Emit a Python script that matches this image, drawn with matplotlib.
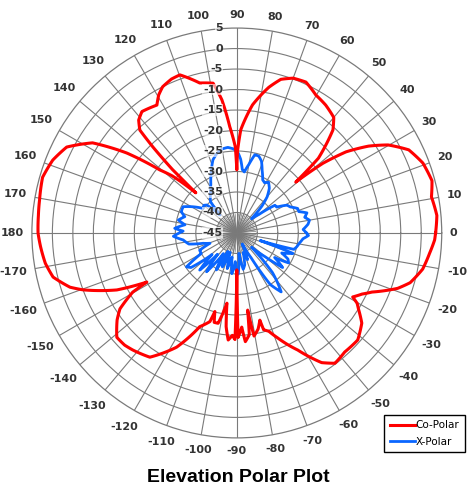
import numpy as np
import matplotlib
matplotlib.use('Agg')
import matplotlib.pyplot as plt

# ---------------- data ----------------
co_angle = [0, 5, 10.5, 15, 20.6, 25.8, 30.2, 33.4, 36.6, 39, 40.8, 42.5, 47, 50, 55.2,
            60.2, 65.4, 70, 74, 77.6, 83, 87.8, 89.5, 90, 91, 93.8, 96.4, 99, 103.9,
            109.8, 113, 116.9, 119.5, 122, 125, 128, 131, 133.3, 134.3, 135.4, 135.6,
            138.5, 140.7, 144, 148, 153.2, 158.4, 164, 170.5, 175, 180,
            184, 189, 193.5, 198, 200.3, 205.4, 208.6, 209.6, 213, 216, 221, 225,
            228.4, 235, 242.2, 248.4, 253.1, 254.4, 255.8, 258.3, 262, 263.5, 265.4,
            267.5, 269, 270, 270.7, 273, 274.5, 277, 278, 279.5, 282.5, 284.8, 285.5,
            288, 291.3, 297.5, 303.2, 307, 312.2, 318.5, 324.2, 328, 329.7, 331.1,
            334, 336.4, 341, 344, 349, 354, 358, 360]
co_db = [3.5, 4.0, 3.3, 4.3, 3.5, 1.6, -2.3, -6.5, -11.8, -18, -26, -18, -10.6, -8.2, -7,
         -6.2, -4.5, -4.8, -6, -8.6, -13.5, -19.8, -25, -29.6, -24, -19, -12.3, -8, -7.3,
         -4, -4.2, -5, -6.3, -8.2, -7.8, -7.4, -8.5, -10.5, -15.7, -23, -31,
         -24, -20.7, -11.8, -3.5, 1.5, 3.3, 4.3, 3.8, 3.6, 3.5,
         3.0, 2.3, 1.1, -2.2, -5, -12.6, -20, -15.8, -11, -8.9, -6.2, -6.3,
         -6.8, -8, -13.5, -20.4, -22.4, -25.1, -22.5, -22.5, -27.7, -22, -18.8,
         -20, -19, -36, -19.5, -22, -18.4, -20, -26, -19.5, -21, -23, -20.5,
         -19.8, -17.5, -12.8, -7.2, -5.2, -5.8, -5.6, -7.4, -10, -11, -12.7,
         -11, -9, -3.5, -1, 1.2, 2.3, 3.3, 3.5]

x_angle = [0, 3, 7, 10, 13, 16, 19, 22, 26, 29, 33, 36, 40, 44, 47, 50, 54, 58, 61, 64,
           68, 71, 74, 77, 80, 83, 85, 87, 89, 92, 96, 100, 104, 108, 113, 118, 122,
           126, 130, 133, 137, 140, 144, 149, 154, 159, 162.6, 167.5, 171, 175.7, 178,
           183, 187.4, 193, 197, 201, 205, 210, 214, 217, 221, 225, 228, 232, 237,
           241, 244, 247, 251, 255, 259, 263, 267, 270, 272, 276, 280, 284, 288,
           292, 296, 300, 303, 307, 312, 316, 320, 323, 327, 330, 333, 336, 340,
           342, 344, 347, 351, 355, 358, 360]
x_db = [-28, -28.8, -27.5, -27, -28, -27.2, -29, -29, -30.5, -31, -33.4, -33.5, -38, -40,
        -36, -33.5, -31.5, -30.4, -31, -30.6, -28.5, -26.5, -25.5, -25.4, -28, -30,
        -29.5, -27, -25.5, -24.5, -24, -24.2, -25, -26.2, -29, -31.5, -33, -34, -35,
        -39, -35, -34.5, -34.8, -32.6, -30.4, -30.5, -31.7, -30.4, -32.2, -29.8,
        -31.9, -29.5, -31.8, -33, -36.4, -38, -35, -35, -30.2, -31, -37, -32.2, -38,
        -33, -39, -34.7, -40, -36, -40, -36, -39, -35, -38, -34.8, -35, -40, -36,
        -37, -40, -38, -42, -38, -30, -27, -32, -40, -36, -31, -34, -30.4, -31, -33,
        -30.4, -39, -30.5, -30, -29.5, -28.8, -27.5, -28]

r_ticks = [5, 0, -5, -10, -15, -20, -25, -30, -35, -40, -45]
theta_ticks = [0, 10, 20, 30, 40, 50, 60, 70, 80, 90, 100, 110, 120, 130, 140, 150, 160,
               170, 180, 190, 200, 210, 220, 230, 240, 250, 260, 270, 280, 290, 300,
               310, 320, 330, 340, 350]
theta_labels = ['0', '10', '20', '30', '40', '50', '60', '70', '80', '90', '100', '110',
                '120', '130', '140', '150', '160', '170', '180', '-170', '-160', '-150',
                '-140', '-130', '-120', '-110', '-100', '-90', '-80', '-70', '-60', '-50',
                '-40', '-30', '-20', '-10']

# ---------------- figure ----------------
fig = plt.figure(figsize=(4.76, 4.91), dpi=100)
ax = fig.add_axes([0.067, 0.108, 0.861, 0.835], projection='polar')
ax.set_ylim(-45, 5)

grid_col = '#7a7a7a'
ax.set_yticks([-40, -35, -30, -25, -20, -15, -10, -5, 0])
ax.set_yticklabels([])
ax.set_thetagrids(theta_ticks, [''] * len(theta_ticks))
ax.grid(True, color=grid_col, linewidth=0.8)
ax.spines['polar'].set_color(grid_col)
ax.spines['polar'].set_linewidth(0.9)

# dense spokes near the centre
for a in range(0, 360, 5):
    ax.plot([np.deg2rad(a)] * 2, [-45, -40.3], color='#777777', lw=0.5, zorder=1)

lx, = ax.plot(np.deg2rad(x_angle), x_db, color='#0a66ff', lw=2.0, label='X-Polar', zorder=3)
lc, = ax.plot(np.deg2rad(co_angle), co_db, color='#ff0000', lw=2.2, label='Co-Polar', zorder=4)
for ln in (lx, lc):
    ln.get_path()._interpolation_steps = 12

for r in r_ticks:
    ax.annotate(str(r), xy=(np.pi / 2, r), xytext=(-10, 0), textcoords='offset points',
                ha='right', va='center', fontsize=8, fontweight='bold', color='#333333',
                bbox=dict(boxstyle='square,pad=0.05', fc='white', ec='none', alpha=0.6),
                zorder=5, annotation_clip=False)

# angular labels placed just outside the outer circle
fig.canvas.draw()
renderer = fig.canvas.get_renderer()
gap = 8
for a, lbl in zip(theta_ticks, theta_labels):
    th = np.deg2rad(a)
    t = ax.annotate(lbl, xy=(th, 5), xytext=(0, 0), textcoords='offset pixels',
                    ha='center', va='center', fontsize=8, fontweight='bold',
                    color='#333333', annotation_clip=False)
    bb = t.get_window_extent(renderer)
    d = gap + bb.width / 2 * abs(np.cos(th)) + bb.height / 2 * abs(np.sin(th))
    t.xyann = (d * np.cos(th), d * np.sin(th))

handles, labels = ax.get_legend_handles_labels()
hmap = dict(zip(labels, handles))
leg = fig.legend([hmap['Co-Polar'], hmap['X-Polar']], ['Co-Polar', 'X-Polar'],
                 loc='lower right', bbox_to_anchor=(0.987, 0.069), fontsize=7.5,
                 frameon=True, fancybox=False, edgecolor='black', framealpha=1,
                 handlelength=2.4, handletextpad=0.1, borderpad=0.5, labelspacing=0.6)
leg.get_frame().set_linewidth(1.0)

fig.text(0.5, 1 - 477 / 491, 'Elevation Polar Plot', ha='center', va='center',
         fontsize=14, fontweight='bold', family='Liberation Sans')

fig.savefig('out.png', dpi=100)
